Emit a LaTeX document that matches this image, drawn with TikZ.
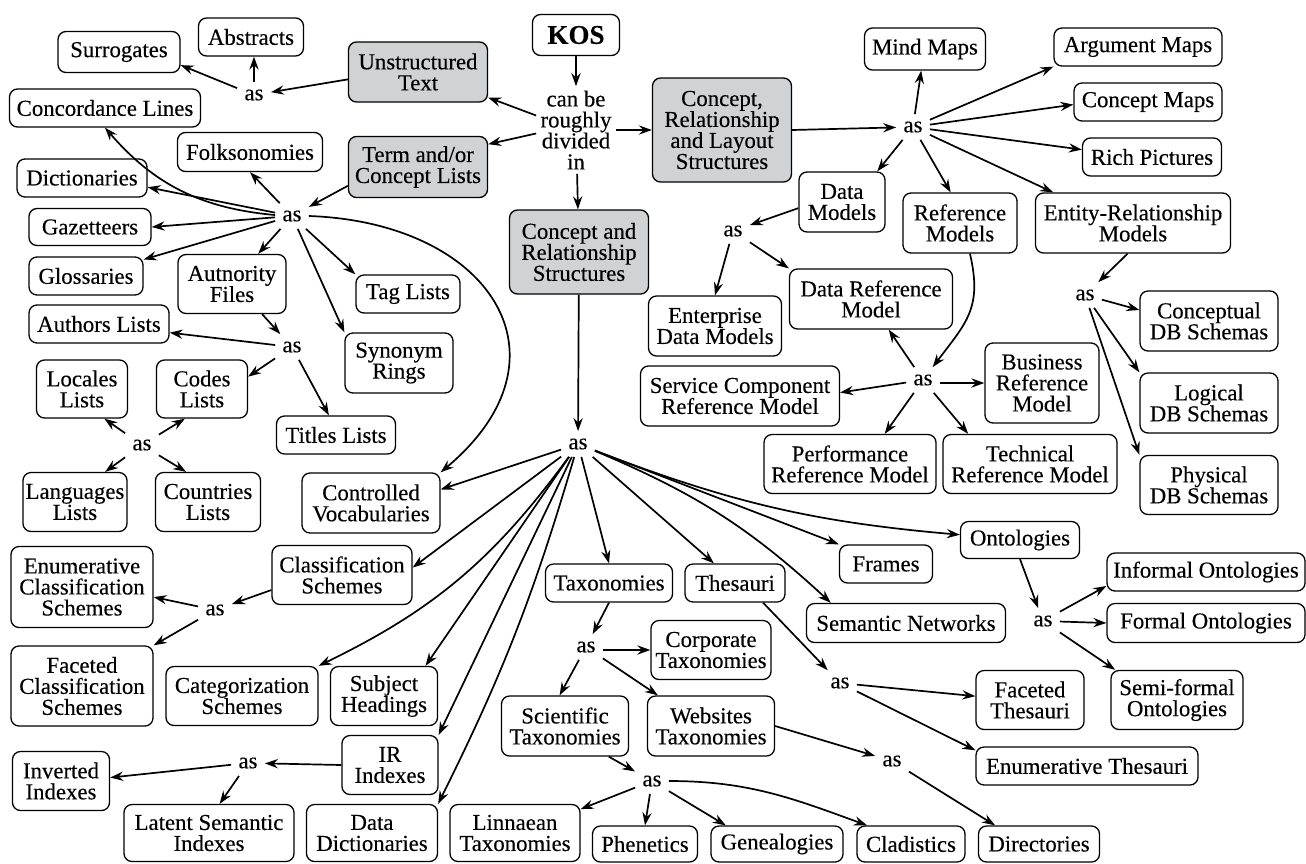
\documentclass[tikz,border=0pt]{standalone}
\usepackage{fontspec}
\setmainfont{Liberation Serif}[FakeBold=0.3]
\usetikzlibrary{arrows.meta}
\definecolor{boxgray}{RGB}{209,210,212}
\tikzset{
 box/.style={draw, rounded corners=4pt, line width=0.65pt, fill=white, align=center, inner sep=0pt, font=\fontsize{11.4}{10.5}\selectfont},
 bx/.style 2 args={box, minimum width=#1*0.5pt, minimum height=#2*0.5pt},
 gbx/.style 2 args={bx={#1}{#2}, fill=boxgray},
 asn/.style={inner sep=3.5pt, font=\fontsize{11.4}{10.5}\selectfont},
 arr/.style={-{Stealth[length=6.5pt,width=4.6pt,inset=2.2pt]}, line width=0.85pt},
}
\begin{document}
\begin{tikzpicture}[x=0.5pt,y=-0.5pt]
\useasboundingbox (0,0) rectangle (1306,863);
% top centre
\node[bx={87}{41}, font=\bfseries\fontsize{13.5}{14}\selectfont] (kos) at (576,35) {KOS};
\node[align=center, inner sep=2pt, font=\fontsize{11.4}{10.5}\selectfont] (div) at (576,130) {can be\\roughly\\divided\\in};
\node[gbx={139}{60}] (unstr) at (418,72) {Unstructured\\Text};
\node[gbx={139}{61}] (term) at (418,167) {Term and/or\\Concept Lists};
\node[gbx={139}{104}] (crl) at (722,130) {Concept,\\Relationship\\and Layout\\Structures};
\node[gbx={139}{84}] (crs) at (579,252) {Concept and\\Relationship\\Structures};
% unstructured text
\node[bx={105}{38}] (abstracts) at (251,37) {Abstracts};
\node[bx={122}{41}] (surrogates) at (119,52) {Surrogates};
\node[asn] (as1) at (254,95) {as};
% term lists
\node[bx={191}{38}] (concord) at (105,108) {Concordance Lines};
\node[bx={145}{39}] (folk) at (250,152) {Folksonomies};
\node[bx={130}{38}] (dict) at (82,178) {Dictionaries};
\node[asn] (as2) at (292,216) {as};
\node[bx={122}{37}] (gaz) at (90,227) {Gazetteers};
\node[bx={114}{38}] (gloss) at (86,276) {Glossaries};
\node[bx={108}{59}] (auth) at (232,284) {Autnority\\Files};
\node[bx={104}{38}] (tag) at (408,294) {Tag Lists};
\node[bx={140}{38}] (authors) at (99,324) {Authors Lists};
\node[asn] (as3) at (292,347) {as};
\node[bx={108}{60}] (syn) at (399,363) {Synonym\\Rings};
\node[bx={91}{58}] (locales) at (82,389) {Locales\\Lists};
\node[bx={91}{58}] (codes) at (202,389) {Codes\\Lists};
\node[bx={119}{38}] (titles) at (336,435) {Titles Lists};
\node[asn] (as4) at (142,445) {as};
\node[bx={104}{59}] (lang) at (75,502) {Languages\\Lists};
\node[bx={105}{59}] (countries) at (208,502) {Countries\\Lists};
\node[bx={138}{60}] (controlled) at (371,503) {Controlled\\Vocabularies};
% concept and relationship structures
\node[asn] (as12) at (578,444) {as};
\node[bx={142}{81}] (enumcls) at (82,587) {Enumerative\\Classification\\Schemes};
\node[bx={140}{59}] (clsch) at (342,575) {Classification\\Schemes};
\node[asn] (as5) at (215,610) {as};
\node[bx={142}{80}] (facetcls) at (82,686) {Faceted\\Classification\\Schemes};
\node[bx={152}{59}] (categ) at (242,696) {Categorization\\Schemes};
\node[bx={107}{59}] (subj) at (384,696) {Subject\\Headings};
\node[bx={96}{59}] (ir) at (390,765) {IR\\Indexes};
\node[asn] (as6) at (248,763) {as};
\node[bx={97}{59}] (inverted) at (61,781) {Inverted\\Indexes};
\node[bx={170}{57}] (latent) at (209,833) {Latent Semantic\\Indexes};
\node[bx={131}{57}] (datadict) at (372,833) {Data\\Dictionaries};
\node[bx={127}{38}] (taxo) at (609,583) {Taxonomies};
\node[bx={100}{38}] (thes) at (735,583) {Thesauri};
\node[asn] (as7) at (586,647) {as};
\node[bx={120}{59}] (corp) at (711,650) {Corporate\\Taxonomies};
\node[bx={127}{60}] (sci) at (565,726) {Scientific\\Taxonomies};
\node[bx={127}{60}] (web) at (711,726) {Websites\\Taxonomies};
\node[asn] (as8) at (652,781) {as};
\node[bx={130}{57}] (linn) at (515,833) {Linnaean\\Taxonomies};
\node[bx={105}{36}] (phen) at (645,844) {Phenetics};
\node[bx={132}{36}] (geneal) at (777,844) {Genealogies};
\node[bx={108}{36}] (clad) at (911,844) {Cladistics};
\node[bx={121}{36}] (dirs) at (1039,844) {Directories};
\node[asn] (as9) at (892,761) {as};
\node[bx={222}{38}] (enumthes) at (1087,766) {Enumerative Thesauri};
\node[bx={108}{59}] (facthes) at (1030,700) {Faceted\\Thesauri};
\node[asn] (as10) at (840,683) {as};
\node[bx={199}{39}] (semnet) at (906,623) {Semantic Networks};
\node[bx={93}{38}] (frames) at (886,564) {Frames};
\node[bx={119}{37}] (onto) at (1020,540) {Ontologies};
\node[asn] (as11) at (1043,621) {as};
\node[bx={198}{38}] (informal) at (1206,572) {Informal Ontologies};
\node[bx={198}{39}] (formal) at (1206,623) {Formal Ontologies};
\node[bx={132}{59}] (semiformal) at (1177,700) {Semi-formal\\Ontologies};
% concept, relationship and layout structures
\node[asn] (as16) at (913,127) {as};
\node[bx={121}{42}] (mind) at (925,49) {Mind Maps};
\node[bx={168}{38}] (argm) at (1138,47) {Argument Maps};
\node[bx={148}{38}] (conm) at (1148,102) {Concept Maps};
\node[bx={139}{38}] (rich) at (1152,157) {Rich Pictures};
\node[bx={86}{60}] (dm) at (842,202) {Data\\Models};
\node[bx={114}{60}] (refm) at (960,223) {Reference\\Models};
\node[bx={195}{60}] (erm) at (1133,223) {Entity-Relationship\\Models};
\node[asn] (as14) at (733,231) {as};
\node[bx={133}{60}] (edm) at (715,326) {Enterprise\\Data Models};
\node[bx={163}{60}] (drm) at (871,299) {Data Reference\\Model};
\node[asn] (as13) at (923,380) {as};
\node[bx={199}{60}] (scrm) at (740,396) {Service Component\\Reference Model};
\node[bx={114}{80}] (brm) at (1042,383) {Business\\Reference\\Model};
\node[bx={172}{59}] (prm) at (850,464) {Performance\\Reference Model};
\node[bx={174}{59}] (trm) at (1030,464) {Technical\\Reference Model};
\node[asn] (as15) at (1085,295) {as};
\node[bx={138}{60}] (concdb) at (1209,321) {Conceptual\\DB Schemas};
\node[bx={138}{60}] (logdb) at (1209,403) {Logical\\DB Schemas};
\node[bx={138}{59}] (physdb) at (1209,485) {Physical\\DB Schemas};
% connectors
\draw[arr] (kos) -- (div);
\draw[arr] (div.160) -- (unstr.-20);
\draw[arr] (div.185) -- (term.18);
\draw[arr] (div.east) -- (crl.west);
\draw[arr] (div) -- (crs);
\draw[arr] (unstr.186) -- (as1);
\draw[arr] (as1) -- (surrogates.-12);
\draw[arr] (as1) -- (as1 |- abstracts.south);
\draw[arr] (term.195) -- (as2);
\draw[arr] (as2) -- (folk.south);
\draw[arr] (as2) to[bend left=22] (concord.south);
\draw[arr] (as2) -- (dict.-8);
\draw[arr] (as2) -- (gaz.east);
\draw[arr] (as2) -- (gloss.16);
\draw[arr] (as2) -- (auth.49);
\draw[arr] (as2) -- (tag.north west);
\draw[arr] (as2) -- (syn.north west);
\draw[arr] (as2.east) to[out=-2,in=40,looseness=1.6] (controlled.north east);
\draw[arr] (auth.-45) -- (as3);
\draw[arr] (as3) -- (authors.-7);
\draw[arr] (as3) -- (codes.15);
\draw[arr] (as3) -- (titles.110);
\draw[arr] (as4) -- (locales.-53);
\draw[arr] (as4) -- (codes.-120);
\draw[arr] (as4) -- (lang.45);
\draw[arr] (as4) -- (countries.126);
\draw[arr] (crs) -- (as12);
\draw[arr] (as12) -- (controlled.11);
\draw[arr] (as12) -- (clsch.6);
\draw[arr] (as12) to[bend left=14] (categ.north east);
\draw[arr] (as12) -- (subj.36);
\draw[arr] (as12) -- (ir.north east);
\draw[arr] (as12) to[bend left=5] (datadict.north east);
\draw[arr] (as12) -- (taxo.north);
\draw[arr] (as12) -- (thes.137);
\draw[arr] (as12) -- (frames.north west);
\draw[arr] (as12) to[bend left=10] (semnet.165);
\draw[arr] (as12) to[bend right=8] (onto.175);
\draw[arr] (clsch.192) -- (as5);
\draw[arr] (as5) -- (enumcls.-8);
\draw[arr] (as5) -- (facetcls.north east);
\draw[arr] (ir.west) -- (as6);
\draw[arr] (as6) -- (inverted.4);
\draw[arr] (as6) -- (latent.70);
\draw[arr] (taxo.south) -- (as7);
\draw[arr] (as7.east |- corp.west) -- (corp.west);
\draw[arr] (as7) -- (sci.100);
\draw[arr] (as7) -- (web.150);
\draw[arr] (sci.-35) -- (as8);
\draw[arr] (as8) -- (linn.20);
\draw[arr] (as8) -- (phen.north);
\draw[arr] (as8) -- (geneal.160);
\draw[arr] (as8.east) to[out=0,in=160] (clad.157);
\draw[arr] (web.east) -- (as9);
\draw[arr] (as9) -- (dirs.157);
\draw[arr] (thes.-35) -- (as10);
\draw[arr] (as10) -- (facthes.176);
\draw[arr] (as10) -- (enumthes.172);
\draw[arr] (onto.south) -- (as11);
\draw[arr] (as11) -- (informal.188);
\draw[arr] (as11) -- (formal.west);
\draw[arr] (as11) -- (semiformal.154);
\draw[arr] (crl.east) -- (as16);
\draw[arr] (as16) -- (mind.-100);
\draw[arr] (as16) -- (argm.south west);
\draw[arr] (as16) -- (conm.182);
\draw[arr] (as16) -- (rich.174);
\draw[arr] (as16) -- (erm.159);
\draw[arr] (as16) -- (refm.107);
\draw[arr] (as16) -- (dm.41);
\draw[arr] (dm.188) -- (as14);
\draw[arr] (as14) -- (edm.north);
\draw[arr] (as14) -- (drm.north west);
\draw[arr] (refm.-72) to[out=-77,in=53,looseness=1.2] (as13);
\draw[arr] (as13) -- (drm.-60);
\draw[arr] (as13) -- (scrm.2);
\draw[arr] (as13.east |- brm.west) -- (brm.west);
\draw[arr] (as13) -- (prm.41);
\draw[arr] (as13) -- (trm.154);
\draw[arr] (erm.-100) -- (as15);
\draw[arr] (as15) -- (concdb.171);
\draw[arr] (as15) -- (logdb.north west);
\draw[arr] (as15) -- (physdb.north west);
\end{tikzpicture}
\end{document}
